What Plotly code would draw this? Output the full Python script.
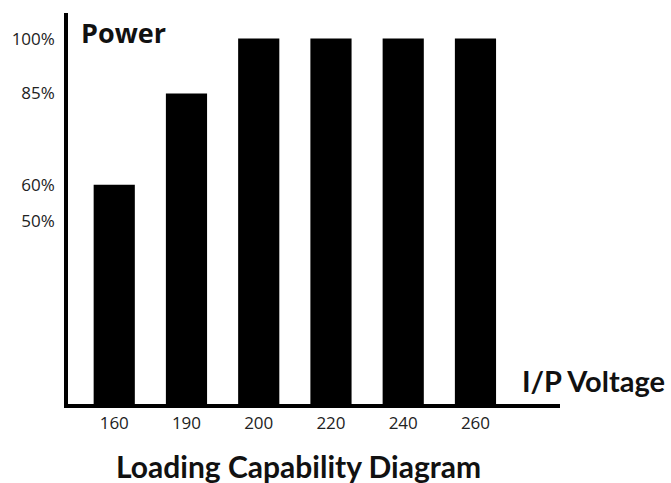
import plotly.graph_objects as go

voltages = ["160", "190", "200", "220", "240", "260"]
power_pct = [60, 85, 100, 100, 100, 100]
y_tick_vals = [50, 60, 85, 100]
y_tick_text = ["50%", "60%", "85%", "100%"]

fig = go.Figure()
fig.add_trace(go.Bar(
    x=voltages, y=power_pct,
    marker=dict(color="#000000", line=dict(width=0)),
    width=0.57,
    hoverinfo="skip",
))

fig.update_layout(
    width=671, height=483,
    margin=dict(l=64, r=111, t=13, b=79),
    paper_bgcolor="white", plot_bgcolor="white",
    showlegend=False,
    font=dict(family="Open Sans", color="#1a1a1a", size=17),
    xaxis=dict(
        type="category", range=[-0.64, 6.17],
        showline=True, linecolor="black", linewidth=3.5,
        showgrid=False, zeroline=False, ticks="",
        ticklabelstandoff=1,
        tickfont=dict(family="Open Sans", size=17, color="#222222"),
    ),
    yaxis=dict(
        range=[0, 107],
        tickvals=y_tick_vals, ticktext=y_tick_text,
        showline=True, linecolor="black", linewidth=3.5,
        showgrid=False, zeroline=False, ticks="",
        ticklabelstandoff=6,
        tickfont=dict(family="Open Sans", size=17, color="#222222"),
    ),
    annotations=[
        dict(text="<b>Power</b>", x=0.113, y=0.951, xref="paper", yref="paper",
             xanchor="center", yanchor="middle", showarrow=False,
             font=dict(family="Open Sans", size=27, color="#111111")),
        dict(text="<b>I/P Voltage</b>", x=0.918, y=0.061, xref="paper", yref="paper",
             xanchor="left", yanchor="middle", showarrow=False,
             font=dict(family="Lato", size=29, color="#111111")),
        dict(text="<b>Loading Capability Diagram</b>", x=0.468, y=-0.158,
             xref="paper", yref="paper", xanchor="center", yanchor="middle",
             showarrow=False,
             font=dict(family="Lato", size=30, color="#111111")),
    ],
)

fig.write_html("out.html", post_script="document.body.style.margin='0';",
               config={"displayModeBar": False})
